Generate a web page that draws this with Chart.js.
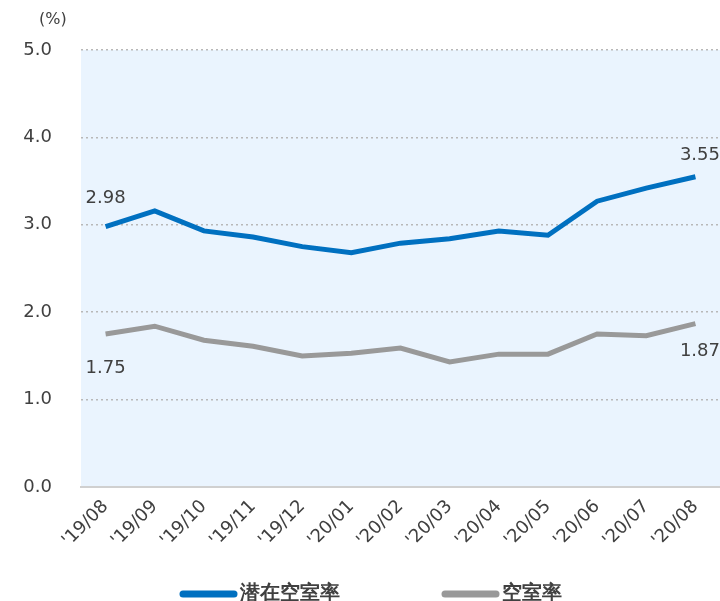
<!DOCTYPE html>
<html>
<head>
<meta charset="utf-8">
<script src="https://cdn.jsdelivr.net/npm/chart.js@4.4.1/dist/chart.umd.min.js"></script>
<style>
    html, body { margin: 0; padding: 0; background: #fff; }
    #wrap { width: 720px; height: 601px; position: relative; }
</style>
</head>
<body>
<div id="wrap"><canvas id="vacancyChart"></canvas></div>
<script>
const months = ["'19/08", "'19/09", "'19/10", "'19/11", "'19/12", "'20/01", "'20/02",
    "'20/03", "'20/04", "'20/05", "'20/06", "'20/07", "'20/08"];
const latentRate = [2.98, 3.16, 2.93, 2.86, 2.75, 2.68, 2.79, 2.84, 2.93, 2.88, 3.27, 3.42, 3.55];
const vacancyRate = [1.75, 1.84, 1.68, 1.61, 1.50, 1.53, 1.59, 1.43, 1.52, 1.52, 1.75, 1.73, 1.87];
const seriesNames = ['潜在空室率', '空室率'];
const yTicks = [0, 1, 2, 3, 4, 5];

const textColor = '#404040';
const fontFamily = '"DejaVu Sans", Verdana, sans-serif';

// light blue plot background, unit label, end value labels and the legend
const decorPlugin = {
    id: 'decor',
    beforeDraw(chart) {
        const { ctx, chartArea } = chart;
        ctx.save();
        ctx.fillStyle = '#EAF4FE';
        ctx.fillRect(chartArea.left, chartArea.top, chartArea.right - chartArea.left, chartArea.bottom - chartArea.top);
        ctx.restore();
    },
    afterDatasetsDraw(chart) {
        const { ctx } = chart;
        ctx.save();
        ctx.fillStyle = textColor;
        ctx.font = '16px ' + fontFamily;
        ctx.textAlign = 'left';
        ctx.textBaseline = 'middle';
        ctx.fillText('(%)', 39, 20);

        ctx.font = '18px ' + fontFamily;
        const x = chart.scales.x;
        const y = chart.scales.y;
        const last = months.length - 1;
        ctx.textAlign = 'center';
        ctx.fillText(latentRate[0].toFixed(2), x.getPixelForValue(0), y.getPixelForValue(latentRate[0]) - 28);
        ctx.fillText(vacancyRate[0].toFixed(2), x.getPixelForValue(0), y.getPixelForValue(vacancyRate[0]) + 34);
        ctx.textAlign = 'right';
        ctx.fillText(latentRate[last].toFixed(2), 720, y.getPixelForValue(latentRate[last]) - 21);
        ctx.fillText(vacancyRate[last].toFixed(2), 720, y.getPixelForValue(vacancyRate[last]) + 28);

        // legend
        const legendX = [180, 442];
        const legendY = 594;
        ctx.font = 'bold 20px ' + fontFamily;
        ctx.textAlign = 'left';
        ctx.lineCap = 'round';
        chart.data.datasets.forEach((ds, i) => {
            ctx.strokeStyle = ds.borderColor;
            ctx.lineWidth = 7;
            ctx.beginPath();
            ctx.moveTo(legendX[i] + 3, legendY);
            ctx.lineTo(legendX[i] + 54, legendY);
            ctx.stroke();
            ctx.fillStyle = textColor;
            ctx.fillText(ds.label, legendX[i] + 60, legendY);
        });
        ctx.restore();
    }
};

const ctx = document.getElementById('vacancyChart').getContext('2d');
new Chart(ctx, {
    type: 'line',
    data: {
        labels: months,
        datasets: [{
            label: seriesNames[0],
            data: latentRate,
            borderColor: '#0070C0',
            backgroundColor: '#0070C0',
            borderWidth: 5,
            pointRadius: 0,
            tension: 0
        }, {
            label: seriesNames[1],
            data: vacancyRate,
            borderColor: '#999999',
            backgroundColor: '#999999',
            borderWidth: 5,
            pointRadius: 0,
            tension: 0
        }]
    },
    options: {
        responsive: true,
        maintainAspectRatio: false,
        animation: false,
        layout: { padding: { top: 50, right: 0, left: 0, bottom: 54 } },
        plugins: {
            tooltip: { enabled: false },
            legend: { display: false }
        },
        scales: {
            x: {
                offset: true,
                grid: { display: false, drawTicks: false },
                border: { display: true, color: '#d0d0d0', width: 2 },
                ticks: {
                    color: textColor,
                    font: { family: fontFamily, size: 18 },
                    maxRotation: 45,
                    minRotation: 45,
                    padding: 9
                },
                afterFit(scale) { scale.height = 60; }
            },
            y: {
                min: 0,
                max: 5,
                afterFit(scale) { scale.width = 81; },
                afterBuildTicks(scale) { scale.ticks = yTicks.map(v => ({ value: v })); },
                grid: {
                    color: ctx => ctx.tick && ctx.tick.value === 0 ? 'rgba(0,0,0,0)' : '#b8b8b8',
                    lineWidth: 1.5,
                    drawTicks: false
                },
                border: { display: false, dash: [2, 3] },
                ticks: {
                    color: textColor,
                    font: { family: fontFamily, size: 18 },
                    padding: 29,
                    callback: v => v.toFixed(1)
                }
            }
        }
    },
    plugins: [decorPlugin]
});
</script>
</body>
</html>
